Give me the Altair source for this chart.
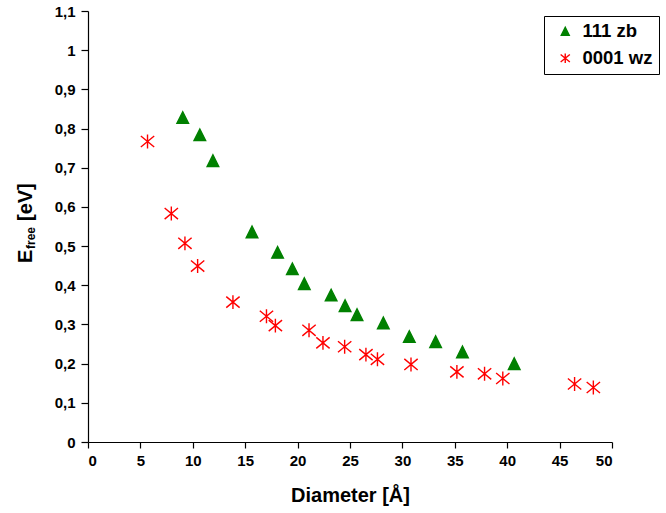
import altair as alt
import pandas as pd

series_names = ["111 zb", "0001 wz"]

zb_diameter = [9.04, 10.67, 11.92, 15.65, 18.09, 19.5, 20.64, 23.2, 24.53, 25.67, 28.18, 30.66, 33.17, 35.73, 40.67]
zb_efree = [0.828, 0.784, 0.718, 0.536, 0.484, 0.442, 0.404, 0.375, 0.348, 0.325, 0.304, 0.269, 0.256, 0.230, 0.200]

wz_diameter = [5.68, 7.95, 9.25, 10.46, 13.83, 17.03, 17.88, 21.09, 22.42, 24.49, 26.52, 27.62, 30.82, 35.2, 37.84, 39.58, 46.43, 48.22]
wz_efree = [0.767, 0.583, 0.507, 0.449, 0.357, 0.321, 0.297, 0.285, 0.253, 0.243, 0.223, 0.211, 0.198, 0.179, 0.174, 0.162, 0.148, 0.139]

x_ticks = [0, 5, 10, 15, 20, 25, 30, 35, 40, 45, 50]
y_ticks = [0, 0.1, 0.2, 0.3, 0.4, 0.5, 0.6, 0.7, 0.8, 0.9, 1.0, 1.1]

df = pd.DataFrame({
    "d": zb_diameter + wz_diameter,
    "e": zb_efree + wz_efree,
    "s": [series_names[0]] * len(zb_diameter) + [series_names[1]] * len(wz_diameter),
})

TRI = "M0,-1L1,1L-1,1Z"
STAR = "M0,-1.2L0,1.2M-1.15,-0.95L1.15,0.95M-1.15,0.95L1.15,-0.95"

FONT = "Liberation Sans"

leg = alt.Legend(
    title=None, orient="none", legendX=456, legendY=5,
    strokeColor="black", fillColor="white", padding=6,
    symbolOffset=6, rowPadding=8, labelOffset=8,
    labelFontSize=18.5, labelFont=FONT, labelFontWeight="bold", labelColor="black",
    symbolSize=64, symbolStrokeWidth=1.4, cornerRadius=0,
)

points = alt.Chart(df).mark_point(size=135, strokeWidth=1.4, opacity=1).encode(
    x=alt.X("d:Q", scale=alt.Scale(domain=[0, 50], nice=False),
            axis=alt.Axis(values=x_ticks, title="Diameter [Å]", tickSize=6,
                          labelPadding=5, titlePadding=17, format="d")),
    y=alt.Y("e:Q", scale=alt.Scale(domain=[0, 1.1], nice=False),
            axis=alt.Axis(values=y_ticks, title=None, tickSize=7, labelPadding=6,
                          labelExpr="replace(format(datum.value, '.1~f'), '.', ',')")),
    shape=alt.Shape("s:N", scale=alt.Scale(domain=series_names, range=[TRI, STAR]), legend=leg),
    fill=alt.Fill("s:N", scale=alt.Scale(domain=series_names, range=["#008000", "transparent"]), legend=leg),
    stroke=alt.Stroke("s:N", scale=alt.Scale(domain=series_names, range=["#008000", "#ff0000"]), legend=leg),
)

def label(txt, x, y, size):
    return alt.Chart(pd.DataFrame({"t": [txt]})).mark_text(
        angle=270, align="left", baseline="alphabetic", font=FONT,
        fontWeight="bold", fontSize=size, color="black"
    ).encode(text="t:N", x=alt.value(x), y=alt.value(y))

ytitle = label("E", -56, 252, 20) + label("free", -53, 238, 12) + label("[eV]", -56, 210, 20)

chart = alt.layer(points, ytitle).properties(
    width=524, height=431,
    background="white",
    autosize=alt.AutoSizeParams(type="none"),
    padding={"left": 88, "top": 11, "right": 54, "bottom": 71},
).configure_view(stroke=None).configure_axis(
    grid=False, domainColor="black", tickColor="black", labelColor="black",
    labelFont=FONT, labelFontWeight="bold", labelFontSize=15,
    titleFont=FONT, titleFontWeight="bold", titleFontSize=20, titleColor="black",
    domainWidth=1.2, tickWidth=1.2,
)

chart.save("out.html", embed_options={"renderer": "svg", "actions": False})
